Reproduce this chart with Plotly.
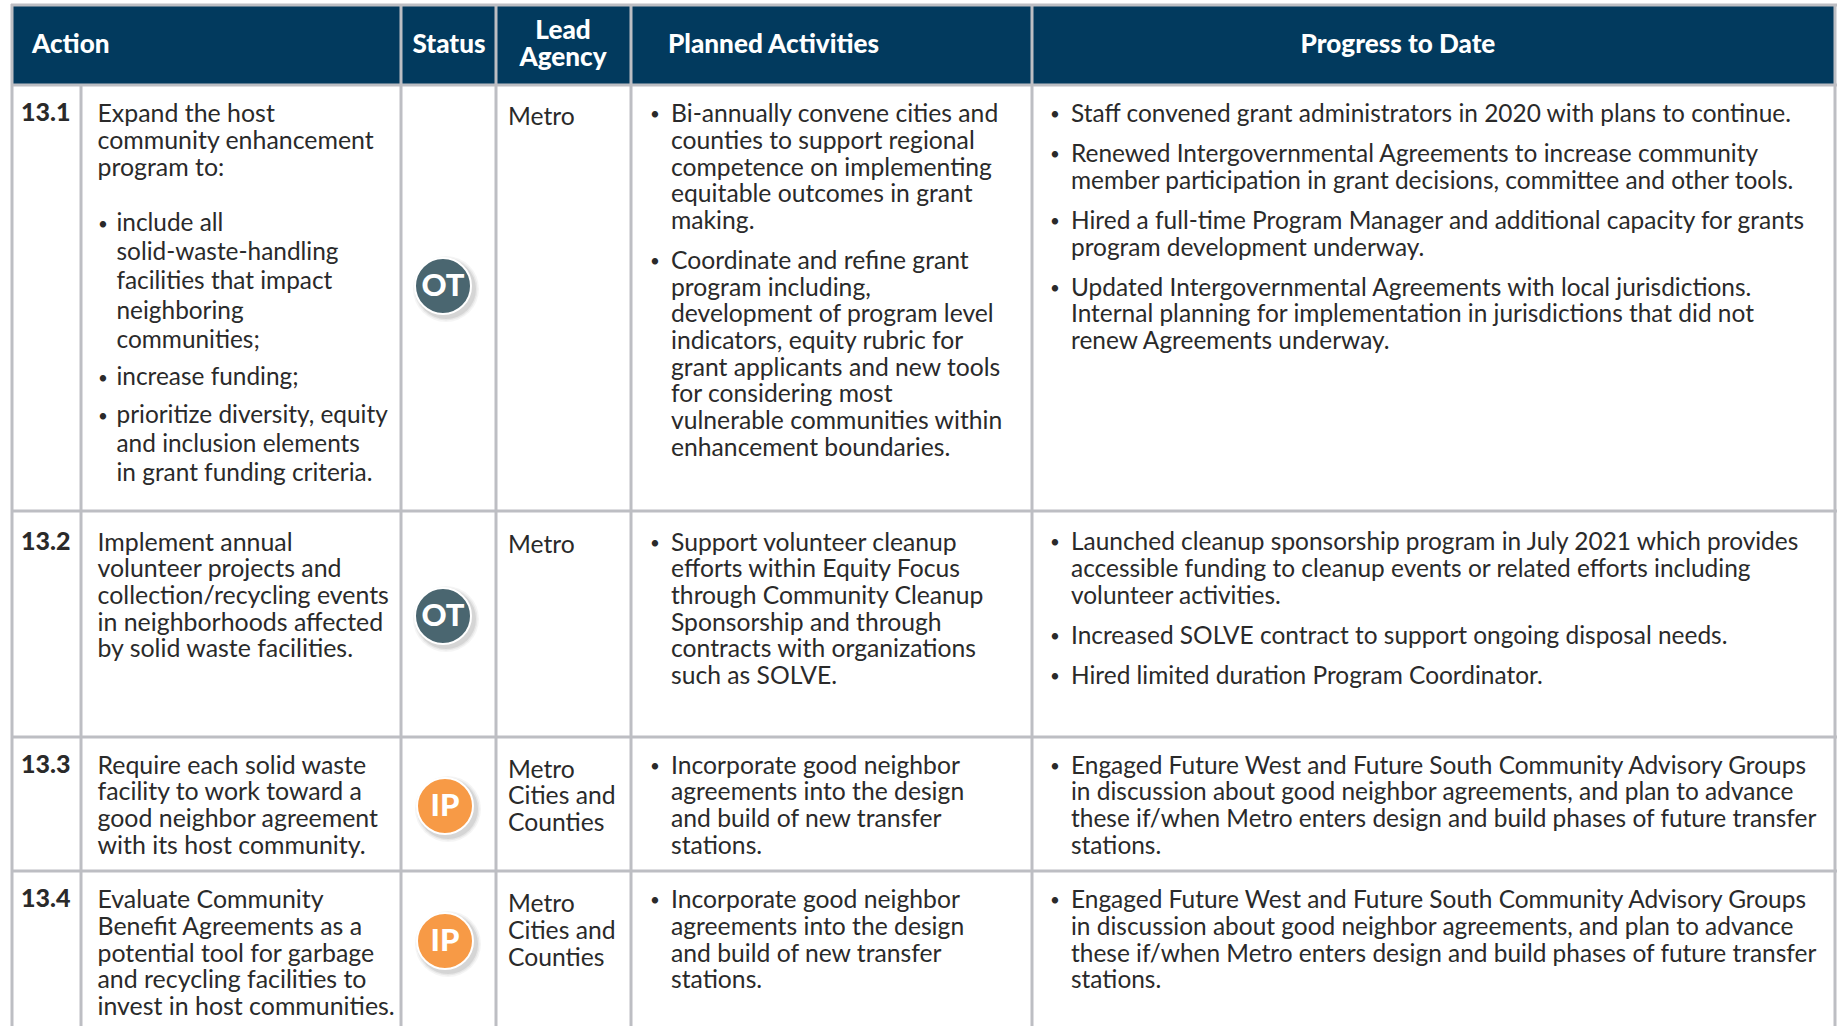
import plotly.graph_objects as go

# ---- content ----
headers = ["Action", "Status", "Lead", "Agency", "Planned Activities", "Progress to Date"]
ids = ["13.1", "13.2", "13.3", "13.4"]
status = ["OT", "OT", "IP", "IP"]
agency = [["Metro"], ["Metro"], ["Metro", "Cities and", "Counties"], ["Metro", "Cities and", "Counties"]]

action_1 = ["Expand the host", "community enhancement", "program to:"]
action_1_b = ["include all", "solid-waste-handling", "facilities that impact", "neighboring", "communities;",
              "increase funding;", "prioritize diversity, equity", "and inclusion elements", "in grant funding criteria."]
action_2 = ["Implement annual", "volunteer projects and", "collection/recycling events",
            "in neighborhoods affected", "by solid waste facilities."]
action_3 = ["Require each solid waste", "facility to work toward a", "good neighbor agreement", "with its host community."]
action_4 = ["Evaluate Community", "Benefit Agreements as a", "potential tool for garbage",
            "and recycling facilities to", "invest in host communities."]

planned_1 = ["Bi-annually convene cities and", "counties to support regional", "competence on implementing",
             "equitable outcomes in grant", "making.",
             "Coordinate and refine grant", "program including,", "development of program level",
             "indicators, equity rubric for", "grant applicants and new tools", "for considering most",
             "vulnerable communities within", "enhancement boundaries."]
planned_2 = ["Support volunteer cleanup", "efforts within Equity Focus", "through Community Cleanup",
             "Sponsorship and through", "contracts with organizations", "such as SOLVE."]
planned_3 = ["Incorporate good neighbor", "agreements into the design", "and build of new transfer", "stations."]

progress_1 = ["Staff convened grant administrators in 2020 with plans to continue.",
              "Renewed Intergovernmental Agreements to increase community",
              "member participation in grant decisions, committee and other tools.",
              "Hired a full-time Program Manager and additional capacity for grants",
              "program development underway.",
              "Updated Intergovernmental Agreements with local jurisdictions.",
              "Internal planning for implementation in jurisdictions that did not",
              "renew Agreements underway."]
progress_2 = ["Launched cleanup sponsorship program in July 2021 which provides",
              "accessible funding to cleanup events or related efforts including",
              "volunteer activities.",
              "Increased SOLVE contract to support ongoing disposal needs.",
              "Hired limited duration Program Coordinator."]
progress_3 = ["Engaged Future West and Future South Community Advisory Groups",
              "in discussion about good neighbor agreements, and plan to advance",
              "these if/when Metro enters design and build phases of future transfer",
              "stations."]

# ---- layout of the table (pixels of the page) ----
W, H = 1843, 1026
GRID, NAVY, INK = "#BDBEC3", "#023A5E", "#2A2A2A"
FONT = "Lato"
SIZE_ACTION, SIZE_BULLET, SIZE_AGENCY, SIZE_PLANNED, SIZE_PROGRESS = 24.9, 24.4, 24.7, 24.7, 24.45
DY = 2.4
cols_full = [12, 401, 496, 631, 1032, 1835]
rows = [5, 85, 511, 737, 871]

fig = go.Figure()
shapes = [dict(type="rect", x0=12, x1=1835, y0=5, y1=85, fillcolor=NAVY, line=dict(width=0), layer="below")]
def line(x0, y0, x1, y1, w=3):
    shapes.append(dict(type="line", x0=x0, y0=y0, x1=x1, y1=y1, line=dict(color=GRID, width=w), layer="below"))
for x in cols_full:
    line(x, 4, x, H)
line(81, 85, 81, H)
for y in rows:
    line(11, y, 1837, y)

def cell(lines, x, ys, size=24.5, color=INK, family=FONT, pos="middle right", weight="normal"):
    fig.add_trace(go.Scatter(x=[x] * len(lines), y=[v + DY for v in ys], text=lines, mode="text", textposition=pos,
                             textfont=dict(family=family, size=size, color=color, weight=weight),
                             hoverinfo="skip", showlegend=False, cliponaxis=False))

def dots(x, ys):
    cell(["•"] * len(ys), x, ys, size=17)

head = dict(color="white", size=26.1, weight=900)
# header
cell([headers[0]], 32, [44], **head)
cell([headers[1]], 449, [44], pos="middle center", **head)
cell(headers[2:4], 563, [30, 57], pos="middle center", **head)
cell([headers[4]], 668, [44], **head)
cell([headers[5]], 1398, [44], pos="middle center", **head)

# ids
cell(ids, 21, [112, 541, 764, 898], size=25, weight=900)

# action column
cell(action_1, 97.5, [113, 140, 167], size=SIZE_ACTION)
cell(action_1_b, 116.5, [223, 252, 281, 311, 340, 377, 415, 444, 473], size=SIZE_BULLET)
dots(98, [223, 377, 415])
cell(action_2, 97.5, [542, 568, 595, 622, 648], size=SIZE_ACTION)
cell(action_3, 97.5, [765, 791, 818, 845], size=SIZE_ACTION)
cell(action_4, 97.5, [899, 926, 953, 979, 1006], size=SIZE_ACTION)

# agency column
for lines, ys in zip(agency, [[114.5 + 2], [544.5], [769.5, 795.5, 822.5], [903.5, 930.5, 957.5]]):
    cell(lines, 508, ys, size=SIZE_AGENCY)

# planned column
cell(planned_1, 671, [113, 140, 167, 193, 220, 260, 287, 313, 340, 367, 393, 420, 447], size=SIZE_PLANNED)
dots(650, [113, 260])
cell(planned_2, 671, [542, 568, 595, 622, 648, 675], size=SIZE_PLANNED)
dots(650, [542])
cell(planned_3, 671, [765, 791, 818, 845], size=SIZE_PLANNED)
dots(650, [765])
cell(planned_3, 671, [899, 926, 953, 979], size=SIZE_PLANNED)
dots(650, [899])

# progress column
cell(progress_1, 1071, [113, 153, 180, 220, 247, 287, 313, 340], size=SIZE_PROGRESS)
dots(1050, [113, 153, 220, 287])
cell(progress_2, 1071, [541, 568, 595, 635, 675], size=SIZE_PROGRESS)
dots(1050, [541, 635, 675])
cell(progress_3, 1071, [765, 791, 818, 845], size=SIZE_PROGRESS)
dots(1050, [765])
cell(progress_3, 1071, [899, 926, 953, 979], size=SIZE_PROGRESS)
dots(1050, [899])

# status badges
bx, by = [443, 443, 445, 445], [286, 616, 806, 941]
bcol = {"OT": "#4A6670", "IP": "#F79A46"}
for grow, alpha in [(8, 0.05), (5, 0.07), (2, 0.10)]:
    fig.add_trace(go.Scatter(x=[v + 3 for v in bx], y=[v + 3 for v in by], mode="markers",
                             marker=dict(size=58 + grow, color="rgba(60,60,60,%s)" % alpha, line=dict(width=0)),
                             hoverinfo="skip", showlegend=False))
fig.add_trace(go.Scatter(x=bx, y=by, mode="markers",
                         marker=dict(size=56, color=[bcol[s] for s in status], line=dict(color="white", width=2)),
                         hoverinfo="skip", showlegend=False))
fig.add_trace(go.Scatter(x=bx, y=[v + 2 for v in by], mode="text", text=status, textposition="middle center",
                         textfont=dict(family=FONT, size=31, color="white", weight=900),
                         hoverinfo="skip", showlegend=False))

fig.update_layout(
    width=W, height=H, margin=dict(l=0, r=0, t=0, b=0), paper_bgcolor="white", plot_bgcolor="white",
    shapes=shapes, showlegend=False,
    xaxis=dict(range=[0, W], visible=False, fixedrange=True),
    yaxis=dict(range=[H, 0], visible=False, fixedrange=True),
)
fig.write_html("out.html", config=dict(displayModeBar=False),
               post_script="document.body.style.margin='0';")
